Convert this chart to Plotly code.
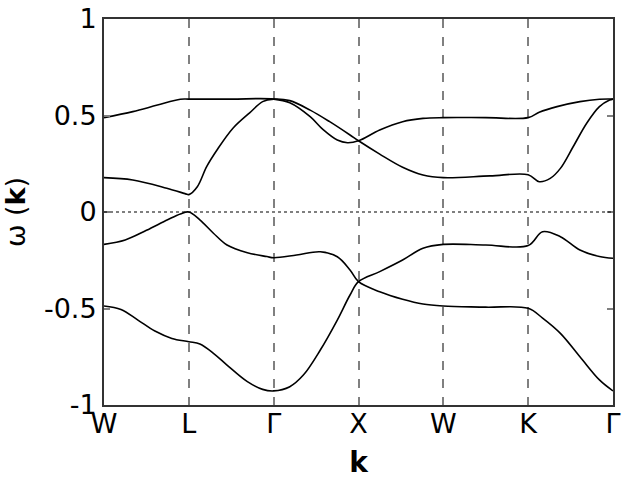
import plotly.graph_objects as go

# high-symmetry path, equally spaced
tick_pos = [0, 1, 2, 3, 4, 5, 6]
tick_labels = ["W", "L", "Γ", "X", "W", "K", "Γ"]

# band values (k-path coordinate, omega)
band1_k = [0, 0.34, 0.63, 0.9, 1.0, 1.5, 2.0, 2.19, 2.43, 2.58, 2.75, 2.87, 3.0,
           3.25, 3.52, 3.76, 4.0, 4.5, 5.0, 5.13, 5.34, 5.61, 5.84, 6.0]
band1_w = [0.489, 0.52, 0.554, 0.584, 0.585, 0.585, 0.585, 0.566, 0.494, 0.428, 0.373, 0.359, 0.369,
           0.425, 0.468, 0.485, 0.489, 0.489, 0.489, 0.517, 0.546, 0.572, 0.584, 0.585]

band2_k = [0, 0.34, 0.74, 0.98, 1.0, 1.1, 1.21, 1.33, 1.52, 1.72, 1.87, 2.0,
           2.19, 2.43, 2.66, 2.9, 3.0, 3.25, 3.52, 3.76, 4.0, 4.55, 5.0,
           5.13, 5.26, 5.38, 5.53, 5.69, 5.84, 5.96, 6.0]
band2_w = [0.178, 0.166, 0.123, 0.092, 0.09, 0.131, 0.235, 0.32, 0.434, 0.515, 0.572, 0.585,
           0.577, 0.528, 0.468, 0.399, 0.369, 0.30, 0.232, 0.192, 0.178, 0.187, 0.193,
           0.157, 0.174, 0.226, 0.338, 0.46, 0.546, 0.58, 0.585]

band3_k = [0, 0.25, 0.5, 0.75, 0.9, 1.0, 1.13, 1.29, 1.45, 1.69, 1.92, 2.0,
           2.27, 2.55, 2.75, 2.9, 3.0, 3.25, 3.52, 3.76, 4.0, 4.5, 5.0,
           5.17, 5.38, 5.61, 5.84, 6.0]
band3_w = [-0.168, -0.145, -0.095, -0.04, -0.01, 0.0, -0.041, -0.11, -0.171, -0.211, -0.231, -0.237,
           -0.223, -0.206, -0.232, -0.30, -0.361, -0.413, -0.452, -0.477, -0.487, -0.493, -0.499,
           -0.55, -0.629, -0.75, -0.87, -0.927]

band4_k = [0, 0.2, 0.4, 0.6, 0.8, 1.0, 1.13, 1.29, 1.45, 1.69, 1.87, 2.0,
           2.19, 2.35, 2.55, 2.75, 2.9, 3.0, 3.25, 3.52, 3.76, 4.0, 4.5, 5.0,
           5.17, 5.38, 5.61, 5.84, 6.0]
band4_w = [-0.487, -0.505, -0.56, -0.617, -0.655, -0.672, -0.684, -0.732, -0.793, -0.879, -0.919, -0.927,
           -0.905, -0.845, -0.715, -0.56, -0.43, -0.361, -0.309, -0.249, -0.188, -0.168, -0.171, -0.174,
           -0.102, -0.128, -0.197, -0.231, -0.24]

bands = [(band1_k, band1_w), (band2_k, band2_w), (band3_k, band3_w), (band4_k, band4_w)]

fig = go.Figure()
for k, w in bands:
    fig.add_trace(go.Scatter(
        x=k, y=w, mode="lines",
        line=dict(color="black", width=1.6, shape="spline", smoothing=1.0),
        showlegend=False, hoverinfo="skip"
    ))

# dotted zero line
fig.add_shape(type="line", xref="x", yref="y", x0=0, x1=6, y0=0, y1=0,
              line=dict(color="black", width=1.2, dash="dot"))

fig.update_layout(
    width=640, height=480,
    margin=dict(l=104, r=27, t=19, b=75),
    paper_bgcolor="white", plot_bgcolor="white",
    font=dict(family="DejaVu Sans", size=27, color="black"),
    showlegend=False,
)
fig.update_xaxes(
    range=[0, 6], tickvals=tick_pos, ticktext=tick_labels, automargin=False,
    showgrid=True, gridcolor="#808080", gridwidth=1.5, griddash="dash",
    zeroline=False, showline=True, linecolor="#333333", linewidth=2, mirror=True,
    ticks="", ticklabelstandoff=-6, ticklabeloverflow="allow",
    title=dict(text="<b>k</b>", font=dict(size=28), standoff=14),
)
fig.update_yaxes(
    range=[-1, 1], tickvals=[-1, -0.5, 0, 0.5, 1], ticktext=["-1", "-0.5", "0", "0.5", "1"],
    automargin=False, showgrid=False, zeroline=False, showline=True,
    linecolor="#333333", linewidth=2, ticklabeloverflow="allow",
    mirror="ticks", ticks="inside", ticklen=6, tickcolor="#808080", tickwidth=2,
    title=dict(text="ω (<b>k</b>)", font=dict(size=27), standoff=10),
)

# drop the page's default body margin so the 640x480 figure fills the window
fig.write_html("out.html", config={"displayModeBar": False},
               post_script="document.body.style.margin='0px';")
